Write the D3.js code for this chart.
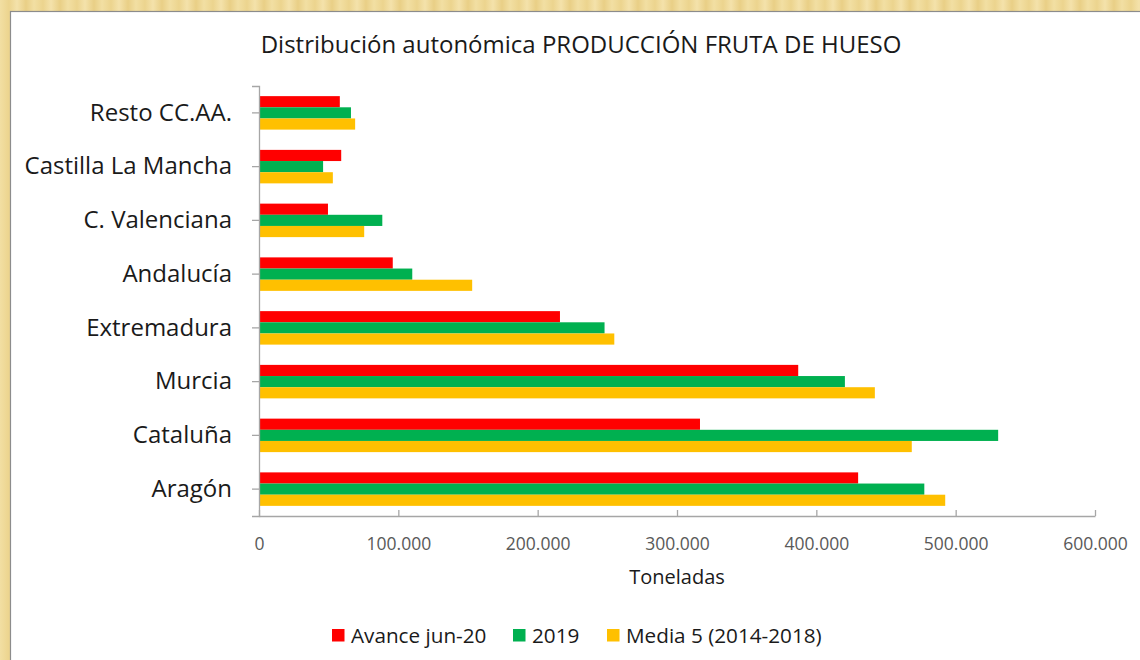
<!DOCTYPE html>
<html>
<head>
<meta charset="utf-8">
<script src="https://cdn.jsdelivr.net/npm/d3@7"></script>
<style>
  html, body { margin: 0; padding: 0; }
  body {
    width: 1140px; height: 660px; overflow: hidden;
    background: repeating-linear-gradient(90deg, #f2dfa3 0px, #ecd48e 9px, #f4e2ab 17px, #e9cf86 26px, #f2dfa3 34px);
  }
  #chart { position: absolute; left: 0; top: 0; }
  text { font-family: "Open Sans", Lato, sans-serif; }
</style>
</head>
<body>
<div id="chart"></div>
<script>
  var W = 1140, H = 660;

  // data, top to bottom as drawn
  var categories = ["Resto CC.AA.", "Castilla La Mancha", "C. Valenciana", "Andalucía",
                    "Extremadura", "Murcia", "Cataluña", "Aragón"];
  var seriesNames = ["Avance jun-20", "2019", "Media 5 (2014-2018)"];
  var avance = [58000, 59000, 49500, 96000, 216000, 387000, 316500, 430000];
  var y2019 = [66000, 46000, 88500, 110000, 248000, 420500, 530500, 477500];
  var media5 = [69000, 53000, 75500, 153000, 255000, 442000, 468500, 492500];
  var xTicks = [0, 100000, 200000, 300000, 400000, 500000, 600000];
  var colors = ["#ff0000", "#00b050", "#ffc000"];

  var series = [avance, y2019, media5];

  var margin = { left: 259, right: 1095, top: 86, bottom: 516 };

  var es = d3.formatLocale({ decimal: ",", thousands: ".", grouping: [3], currency: ["", " €"] });
  var fmt = es.format(",");

  var svg = d3.select("#chart").append("svg")
    .attr("width", W).attr("height", H);

  // white panel
  svg.append("rect")
    .attr("x", 10.5).attr("y", 11.5)
    .attr("width", W).attr("height", H)
    .attr("fill", "#ffffff")
    .attr("stroke", "#8c8c8c").attr("stroke-width", 1.2);

  svg.append("text")
    .attr("x", 581).attr("y", 53)
    .attr("text-anchor", "middle")
    .attr("font-size", "24px")
    .attr("fill", "#1a1a1a")
    .text("Distribución autonómica PRODUCCIÓN FRUTA DE HUESO");

  var x = d3.scaleLinear().domain([0, 600000]).range([margin.left, margin.right]);
  var y = d3.scaleBand().domain(categories).range([margin.top, margin.bottom]).paddingInner(0).paddingOuter(0);
  var barH = y.bandwidth() * 0.623 / 3;
  var inner = d3.scaleBand().domain(d3.range(3)).range([0, barH * 3]);

  // bars
  var groups = svg.append("g").selectAll("g")
    .data(categories)
    .join("g")
    .attr("transform", function(d) {
      return "translate(0," + (y(d) + (y.bandwidth() - barH * 3) / 2) + ")";
    });

  groups.selectAll("rect")
    .data(function(d, i) {
      return series.map(function(s, k) { return { k: k, v: s[i] }; });
    })
    .join("rect")
    .attr("x", x(0))
    .attr("y", function(d) { return inner(d.k); })
    .attr("height", inner.bandwidth())
    .attr("width", function(d) { return x(d.v) - x(0); })
    .attr("fill", function(d) { return colors[d.k]; });

  // x axis
  var xAxis = svg.append("g")
    .attr("transform", "translate(0," + margin.bottom + ")")
    .call(d3.axisBottom(x).tickValues(xTicks).tickFormat(fmt).tickSizeInner(-6).tickSizeOuter(0).tickPadding(22));
  xAxis.select(".domain").attr("stroke", "#a6a6a6").attr("stroke-width", 1.3);
  xAxis.selectAll(".tick line").attr("stroke", "#a6a6a6").attr("stroke-width", 1.3);
  xAxis.selectAll(".tick text")
    .attr("font-size", "17.5px")
    .attr("fill", "#595959")
    .attr("font-family", "'Open Sans', sans-serif");

  // y axis
  var yAxis = svg.append("g")
    .attr("transform", "translate(" + margin.left + ",0)")
    .call(d3.axisLeft(y).tickSizeInner(7).tickSizeOuter(7).tickPadding(20));
  yAxis.select(".domain").attr("stroke", "#a6a6a6").attr("stroke-width", 1.3);
  yAxis.selectAll(".tick line").attr("stroke", "#a6a6a6").attr("stroke-width", 1.3);
  yAxis.selectAll(".tick text")
    .attr("font-size", "24px")
    .attr("fill", "#1a1a1a")
    .attr("font-family", "'Open Sans', sans-serif");

  svg.append("text")
    .attr("x", 677).attr("y", 584)
    .attr("text-anchor", "middle")
    .attr("font-size", "20px")
    .attr("fill", "#1a1a1a")
    .text("Toneladas");

  // legend
  var legendX = [332, 513, 607];
  var legend = svg.append("g").selectAll("g")
    .data(seriesNames)
    .join("g")
    .attr("transform", function(d, i) { return "translate(" + legendX[i] + ",629)"; });
  legend.append("rect")
    .attr("width", 12.5).attr("height", 12.5)
    .attr("fill", function(d, i) { return colors[i]; });
  legend.append("text")
    .attr("x", 19).attr("y", 13.5)
    .attr("font-size", "20.7px")
    .attr("fill", "#1a1a1a")
    .text(function(d) { return d; });
</script>
</body>
</html>
